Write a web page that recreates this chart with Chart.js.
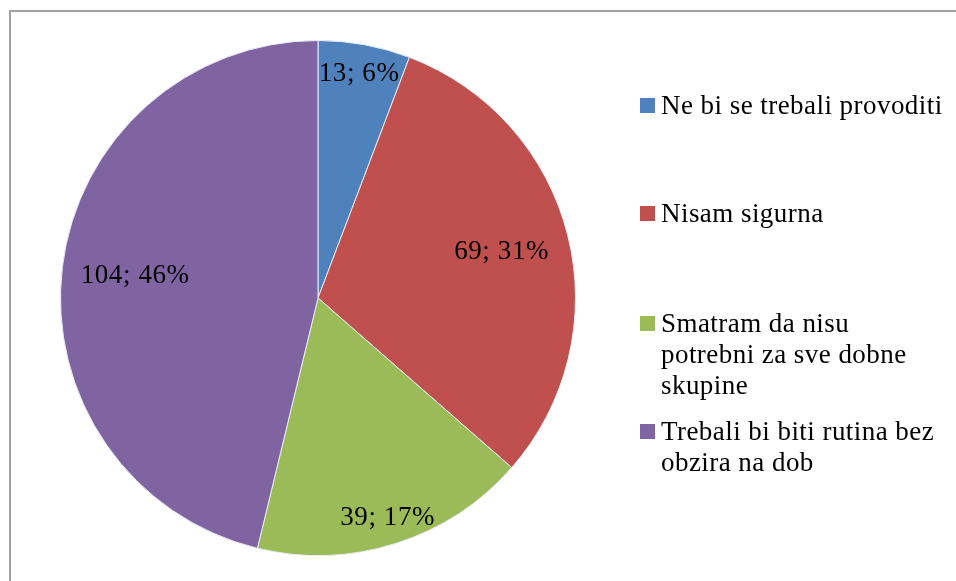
<!DOCTYPE html>
<html>
<head>
<meta charset="utf-8">
<script src="https://cdn.jsdelivr.net/npm/chart.js@4"></script>
<style>
  html, body { margin: 0; padding: 0; background: #fff; }
  #wrap { position: relative; width: 956px; height: 581px; overflow: hidden; }
  #frame { position: absolute; left: 9px; top: 10px; width: 1000px; height: 700px; border: 2px solid #a0a0a0; box-sizing: border-box; }
  canvas { position: absolute; left: 0; top: 0; }
  #legend { position: absolute; left: 640px; top: 0; font-family: "Liberation Serif", serif; font-size: 27px; letter-spacing: 0.45px; color: #000; }
  .item { position: absolute; left: 0; width: 316px; }
  .sw { position: absolute; left: 0; width: 15px; height: 15px; }
  .txt { position: absolute; left: 21px; line-height: 31px; white-space: nowrap; }
</style>
</head>
<body>
<div id="wrap">
  <div id="frame"></div>
  <canvas id="c" width="956" height="581"></canvas>
  <div id="legend"></div>
</div>
<script>
const categories = [
  "Ne bi se trebali provoditi",
  "Nisam sigurna",
  "Smatram da nisu potrebni za sve dobne skupine",
  "Trebali bi biti rutina bez obzira na dob"
];
const legendLines = [
  ["Ne bi se trebali provoditi"],
  ["Nisam sigurna"],
  ["Smatram da nisu", "potrebni za sve dobne", "skupine"],
  ["Trebali bi biti rutina bez", "obzira na dob"]
];
const values = [13, 69, 39, 104];
const percentLabels = ["6%", "31%", "17%", "46%"];
const colors = ["#4F81BD", "#C0504D", "#9BBB59", "#8064A2"];

// radial placement of data labels (fraction of radius)
const labelRadius = [0.885, 0.735, 0.895, 0.715];

const labelPlugin = {
  id: 'sliceLabels',
  afterDatasetsDraw(chart) {
    const ctx = chart.ctx;
    const meta = chart.getDatasetMeta(0);
    ctx.save();
    ctx.font = '27px "Liberation Serif", serif';
    if ('letterSpacing' in ctx) ctx.letterSpacing = '0.6px';
    ctx.fillStyle = '#000';
    ctx.textAlign = 'center';
    ctx.textBaseline = 'middle';
    meta.data.forEach((arc, i) => {
      const p = arc.getProps(['x', 'y', 'startAngle', 'endAngle', 'outerRadius'], true);
      const mid = (p.startAngle + p.endAngle) / 2;
      const r = p.outerRadius * labelRadius[i];
      const x = p.x + Math.cos(mid) * r;
      const y = p.y + Math.sin(mid) * r;
      ctx.fillText(values[i] + '; ' + percentLabels[i], x, y);
    });
    ctx.restore();
  }
};

new Chart(document.getElementById('c'), {
  type: 'pie',
  data: {
    labels: categories,
    datasets: [{
      data: values,
      backgroundColor: colors,
      borderColor: '#e8ecf4',
      borderWidth: 1
    }]
  },
  options: {
    responsive: false,
    animation: false,
    layout: { padding: { left: 60, right: 380, top: 40, bottom: 25 } },
    plugins: { legend: { display: false }, tooltip: { enabled: false } }
  },
  plugins: [labelPlugin]
});

// HTML legend
const legendTops = [105, 213, 323, 431];
const legend = document.getElementById('legend');
legendLines.forEach((lines, i) => {
  const item = document.createElement('div');
  item.className = 'item';
  item.style.top = (legendTops[i] - 15.5) + 'px';
  const sw = document.createElement('div');
  sw.className = 'sw';
  sw.style.background = colors[i];
  sw.style.top = '8px';
  const txt = document.createElement('div');
  txt.className = 'txt';
  txt.innerHTML = lines.join('<br>');
  item.appendChild(sw);
  item.appendChild(txt);
  legend.appendChild(item);
});
</script>
</body>
</html>
